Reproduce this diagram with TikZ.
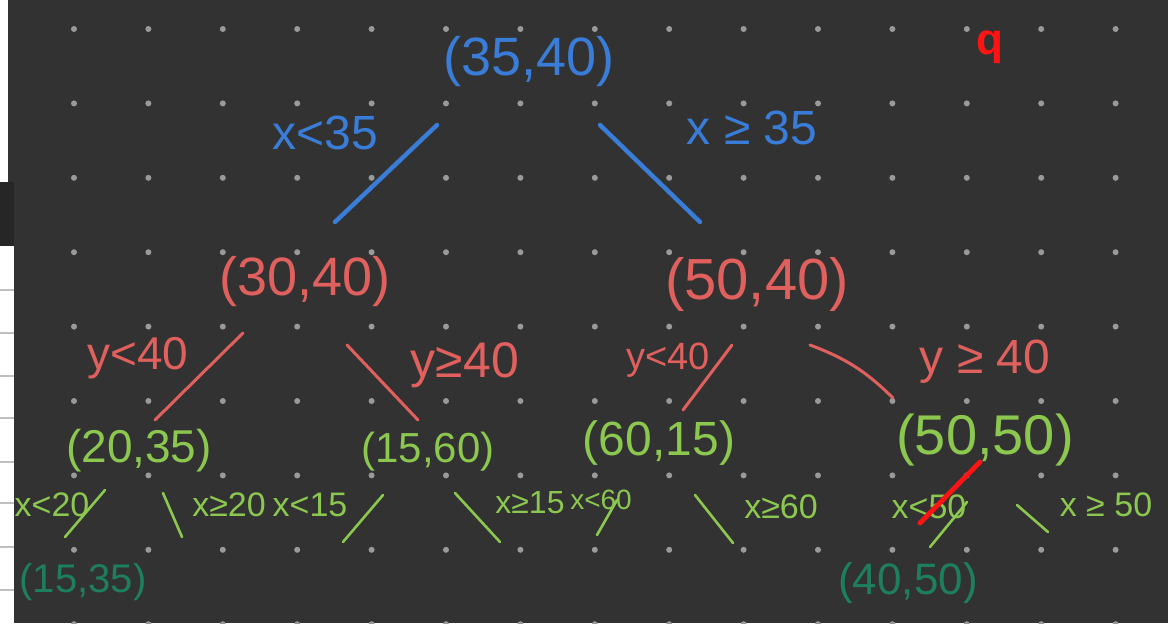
\documentclass[tikz,border=0pt]{standalone}
\usepackage{fontspec}
\setmainfont{Liberation Sans}
\usetikzlibrary{positioning}
\definecolor{board}{HTML}{323232}
\definecolor{dotgray}{HTML}{9A9A9A}
\definecolor{inkblue}{HTML}{3A7DD8}
\definecolor{inkred}{HTML}{E0605E}
\definecolor{inkgreen}{HTML}{8CC850}
\definecolor{inkteal}{HTML}{1E7F5C}
\definecolor{inkbright}{HTML}{FF1414}

\begin{document}
\begin{tikzpicture}[x=0.5pt, y=-0.5pt,
    kdnode/.style={inner sep=0pt, font=\fontsize{#1pt}{#1pt}\selectfont},
    splitlabel/.style={inner sep=0pt, font=\fontsize{#1pt}{#1pt}\selectfont},
    blueedge/.style={draw=inkblue, line width=2.2pt, line cap=round},
    rededge/.style={draw=inkred, line width=1.5pt, line cap=round},
    greenedge/.style={draw=inkgreen, line width=1.3pt, line cap=round}]
  \useasboundingbox (0,0) rectangle (1168,623);
  \fill[board] (0,0) rectangle (1168,623);
  % sheet edge on the left
  \fill[white] (0,0) rectangle (8,182);
  \fill[black!85] (0,182) rectangle (14,246);
  \fill[white] (0,246) rectangle (14,623);
  \foreach \y in {290,333,376,418,462,503,547,590}
    \draw[black!25, line width=0.6pt] (0,\y) -- (14,\y);
  % dot grid
  \foreach \i in {0,...,14}
    \foreach \j in {0,...,8}
      \fill[dotgray] (74+74.4*\i, 29+74.4*\j) circle[radius=1.5pt];

  % tree nodes
  \node[kdnode=27, text=inkblue] (root) at (529,62) {(35,40)};
  \node[kdnode=27, text=inkred] (l1) at (305,282) {(30,40)};
  \node[kdnode=29, text=inkred] (r1) at (757,284) {(50,40)};
  \node[kdnode=23, text=inkgreen] (ll) at (139,451) {(20,35)};
  \node[kdnode=21, text=inkgreen] (lr) at (428,452) {(15,60)};
  \node[kdnode=24, text=inkgreen] (rl) at (659,443) {(60,15)};
  \node[kdnode=28, text=inkgreen] (rr) at (985,440) {(50,50)};
  \node[kdnode=20, text=inkteal] (lll) at (83,582) {(15,35)};
  \node[kdnode=22, text=inkteal] (rrl) at (908,583) {(40,50)};
  \node[inner sep=0pt, text=inkbright, font=\fontsize{22pt}{22pt}\selectfont\bfseries] (q) at (990,47) {q};

  % split conditions
  \node[splitlabel=24, text=inkblue] (c1) at (325,133) {x<35};
  \node[splitlabel=24, text=inkblue] (c2) at (752,128) {x ≥ 35};
  \node[splitlabel=23, text=inkred] (c3) at (138,358) {y<40};
  \node[splitlabel=25, text=inkred] (c4) at (465,365) {y≥40};
  \node[splitlabel=19, text=inkred] (c5) at (668,360) {y<40};
  \node[splitlabel=24, text=inkred] (c6) at (985,362) {y ≥ 40};
  \node[splitlabel=17, text=inkgreen] (c7) at (52,505) {x<20};
  \node[splitlabel=17, text=inkgreen] (c8) at (229,505) {x≥20};
  \node[splitlabel=17, text=inkgreen] (c9) at (310,505) {x<15};
  \node[splitlabel=16, text=inkgreen] (c10) at (530,503) {x≥15};
  \node[splitlabel=14, text=inkgreen] (c11) at (601,500) {x<60};
  \node[splitlabel=17, text=inkgreen] (c12) at (781,507) {x≥60};
  \node[splitlabel=17, text=inkgreen] (c13) at (929,507) {x<50};
  \node[splitlabel=17, text=inkgreen] (c14) at (1106,505) {x ≥ 50};

  % branches
  \draw[blueedge] ([shift={(-92,63)}]root.center) -- ([shift={(30,-60)}]l1.center);
  \draw[blueedge] ([shift={(71,63)}]root.center) -- ([shift={(-57,-62)}]r1.center);
  \draw[rededge] ([shift={(-62,51)}]l1.center) -- ([shift={(16,-31)}]ll.center);
  \draw[rededge] ([shift={(42,63)}]l1.center) -- ([shift={(-10,-32)}]lr.center);
  \draw[rededge] ([shift={(-25,61)}]r1.center) -- ([shift={(24,-33)}]rl.center);
  \draw[rededge] ([shift={(53,61)}]r1.center) to[bend left=12] ([shift={(-92,-42)}]rr.center);
  \draw[greenedge] ([shift={(-34,39)}]ll.center) -- ([shift={(-18,-45)}]lll.center);
  \draw[greenedge] ([shift={(24,42)}]ll.center) -- ++(19,44);
  \draw[greenedge] ([shift={(-45,43)}]lr.center) -- ++(-40,47);
  \draw[greenedge] ([shift={(27,41)}]lr.center) -- ++(45,49);
  \draw[greenedge] ([shift={(-42,57)}]rl.center) -- ++(-20,35);
  \draw[greenedge] ([shift={(36,52)}]rl.center) -- ++(38,48);
  \draw[greenedge] ([shift={(-18,62)}]rr.center) -- ([shift={(22,-36)}]rrl.center);
  \draw[greenedge] ([shift={(32,65)}]rr.center) -- ++(31,27);
  % pruned branch
  \draw[draw=inkbright, line width=2.4pt, line cap=round] ([shift={(-5,22)}]rr.center) -- ++(-60,61);
\end{tikzpicture}
\end{document}
